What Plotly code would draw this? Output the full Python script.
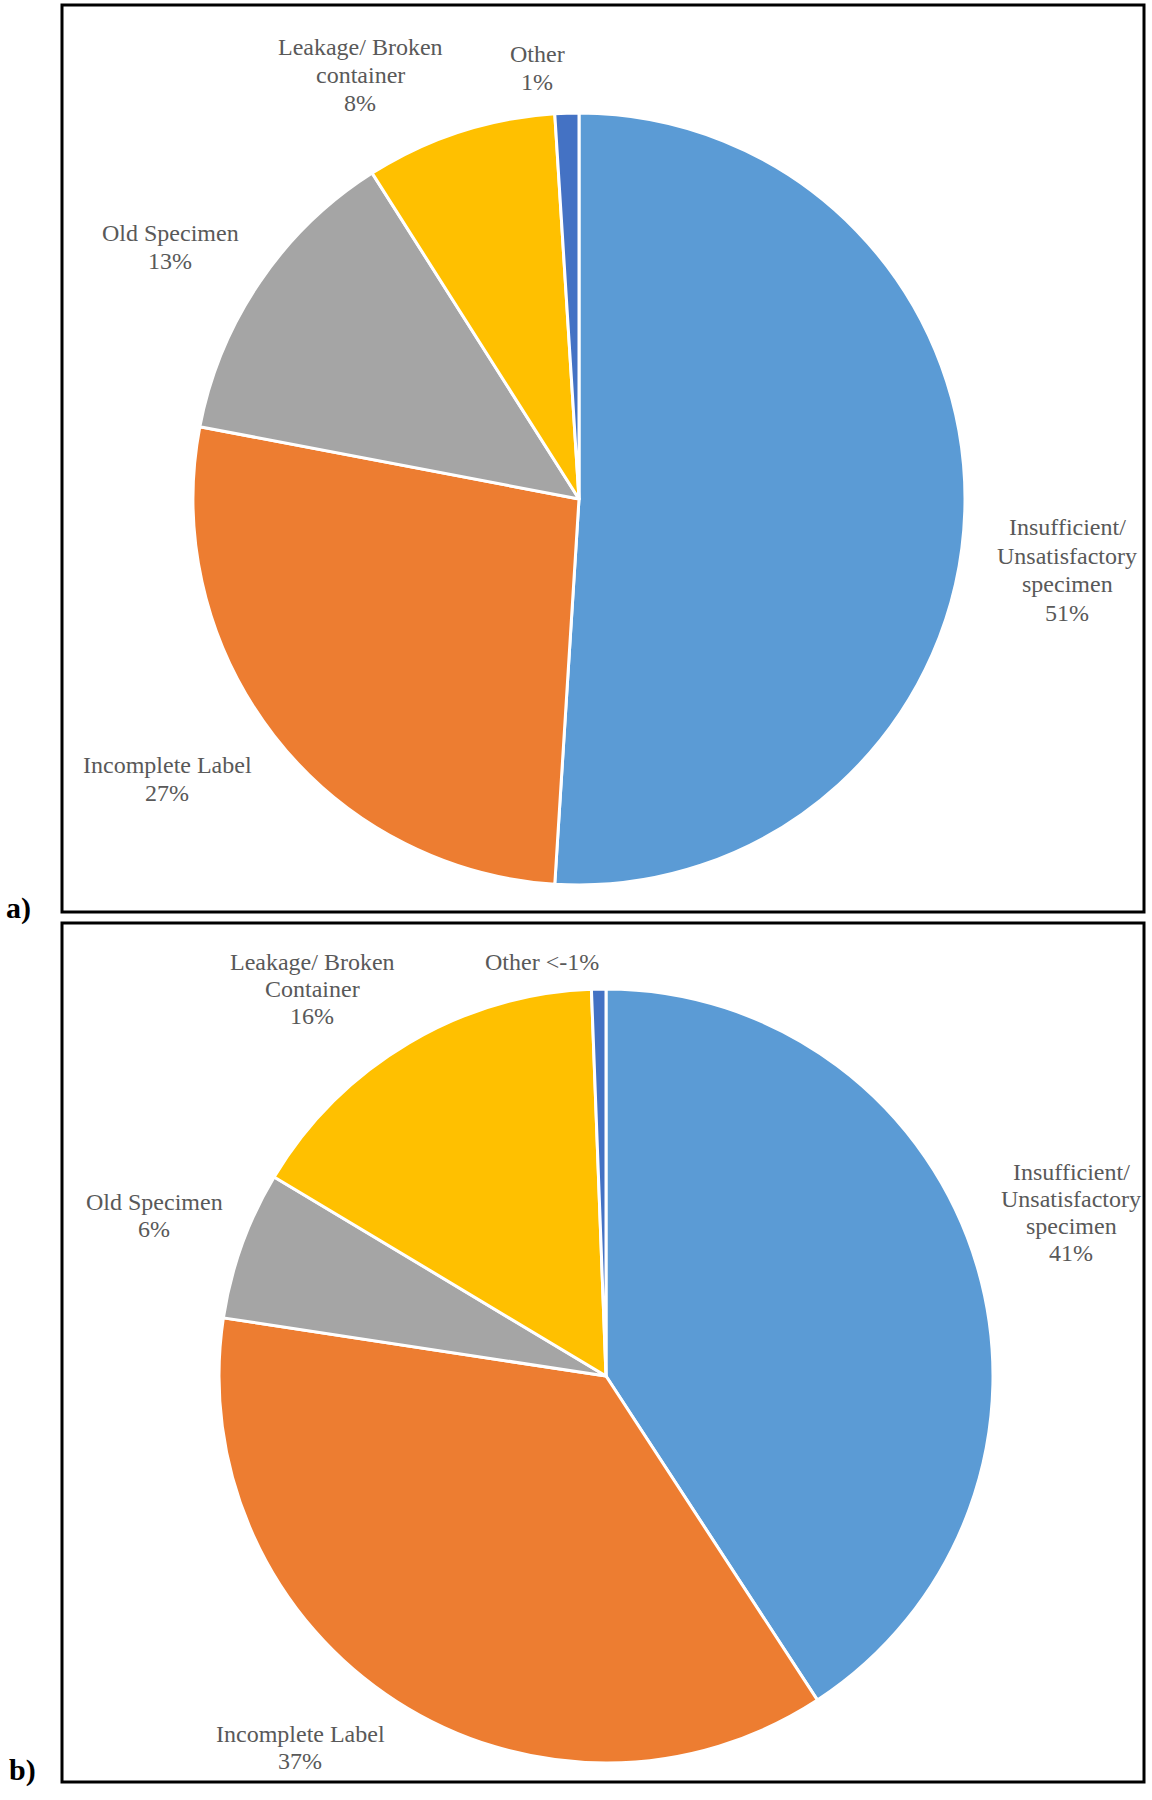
import plotly.graph_objects as go

# ---- Data ----
colors = ["#5B9BD5", "#ED7D31", "#A5A5A5", "#FFC000", "#4472C4"]

cats_a = ["Insufficient/<br>Unsatisfactory<br>specimen", "Incomplete Label", "Old Specimen",
          "Leakage/ Broken<br>container", "Other"]
vals_a = [51, 27, 13, 8, 1]
pct_a = ["51%", "27%", "13%", "8%", "1%"]

cats_b = ["Insufficient/<br>Unsatisfactory<br>specimen", "Incomplete Label", "Old Specimen",
          "Leakage/ Broken<br>Container", "Other <-1%"]
vals_b = [40.8, 36.6, 6.2, 15.8, 0.6]
pct_b = ["41%", "37%", "6%", "16%", ""]

W, H = 1152, 1800


def px(x):
    return x / W


def py(y):
    return 1 - y / H


fig = go.Figure()

fig.add_trace(go.Pie(
    values=vals_a, labels=[c.replace("<br>", " ") for c in cats_a],
    marker=dict(colors=colors, line=dict(color="white", width=3)),
    sort=False, direction="clockwise", rotation=0, textinfo="none",
    showlegend=False,
    domain=dict(x=[px(193), px(965)], y=[py(885), py(113)]),
))
fig.add_trace(go.Pie(
    values=vals_b, labels=[c.replace("<br>", " ") for c in cats_b],
    marker=dict(colors=colors, line=dict(color="white", width=3)),
    sort=False, direction="clockwise", rotation=0, textinfo="none",
    showlegend=False,
    domain=dict(x=[px(219), px(993)], y=[py(1763), py(989)]),
))

label_font = dict(family="Liberation Serif, Times New Roman, serif", size=24, color="#595959")

# label block centres (pixels) and line spacing
pos_a = [(1067, 570), (167, 779), (170, 247), (360, 75), (537, 68)]
pos_b = [(1071, 1212), (300, 1747), (154, 1215), (312, 989), (542, 962)]

for cats, pcts, pos, sp in [(cats_a, pct_a, pos_a, 28.5), (cats_b, pct_b, pos_b, 27)]:
    for c, p, (x, y) in zip(cats, pcts, pos):
        lines = c.split("<br>") + ([p] if p else [])
        n = len(lines)
        for i, ln in enumerate(lines):
            yy = y + (i - (n - 1) / 2) * sp
            fig.add_annotation(x=px(x), y=py(yy), xref="paper", yref="paper",
                               text=ln, showarrow=False, xanchor="center", yanchor="middle",
                               align="center", font=label_font)

# panel borders
for (y0, y1) in [(5, 912), (923, 1782)]:
    fig.add_shape(type="rect", xref="paper", yref="paper",
                  x0=px(62), x1=px(1144), y0=py(y1), y1=py(y0),
                  line=dict(color="black", width=3), fillcolor="rgba(0,0,0,0)")

panel_font = dict(family="Liberation Serif, Times New Roman, serif", size=30, color="black")
fig.add_annotation(x=px(18), y=py(908), xref="paper", yref="paper", text="<b>a)</b>",
                   showarrow=False, xanchor="center", yanchor="middle", font=panel_font)
fig.add_annotation(x=px(22), y=py(1770), xref="paper", yref="paper", text="<b>b)</b>",
                   showarrow=False, xanchor="center", yanchor="middle", font=panel_font)

fig.update_layout(width=W, height=H, margin=dict(l=0, r=0, t=0, b=0),
                  paper_bgcolor="white", plot_bgcolor="white")

fig.write_html("out.html", config={"displayModeBar": False},
               post_script="document.body.style.margin='0';document.body.style.overflow='hidden';")
